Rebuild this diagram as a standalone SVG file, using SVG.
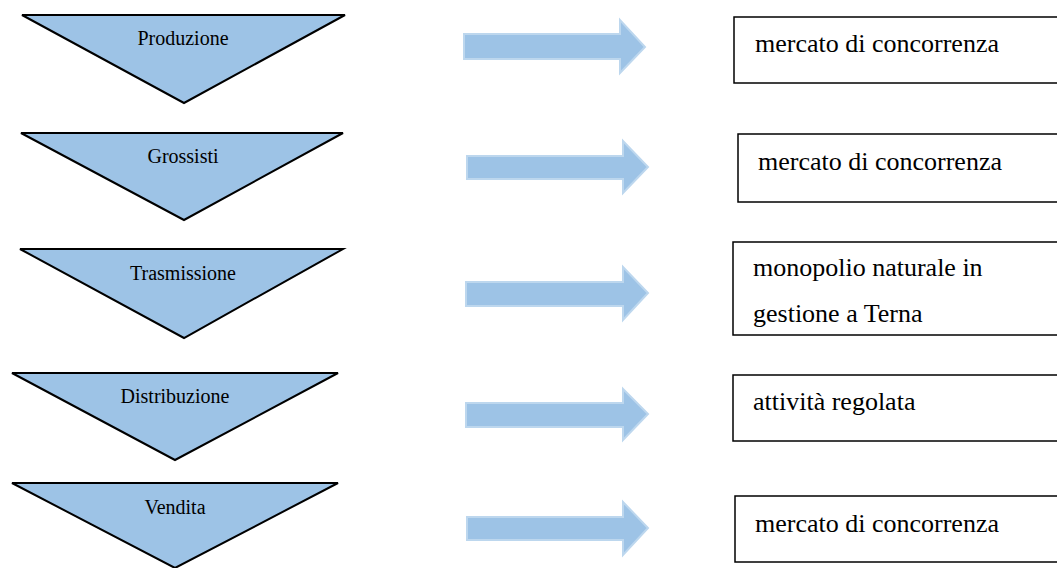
<svg xmlns="http://www.w3.org/2000/svg" width="1057" height="568" viewBox="0 0 1057 568">
<style>
.tri{fill:#9DC3E6;stroke:#000;stroke-width:2;stroke-linejoin:miter}
.arr{fill:#9DC3E6;stroke:#BDD7EE;stroke-width:2}
.box{fill:#fff;stroke:#000;stroke-width:1.5}
.tl{font-family:"Liberation Serif","Times New Roman",serif;font-size:20px;fill:#000;text-anchor:middle}
.bl{font-family:"Liberation Serif","Times New Roman",serif;font-size:26px;fill:#000}
</style>
<rect width="1057" height="568" fill="#fff"/>
<g id="produzione"><polygon class="tri" points="22,15 345,15 184,103"/><text class="tl" x="183" y="45">Produzione</text></g>
<g id="grossisti"><polygon class="tri" points="21,133 343,133 184,220"/><text class="tl" x="183" y="163">Grossisti</text></g>
<g id="trasmissione"><polygon class="tri" points="20,249 343,249 184,338"/><text class="tl" x="183" y="280">Trasmissione</text></g>
<g id="distribuzione"><polygon class="tri" points="12,373 338,373 175,460"/><text class="tl" x="175" y="403">Distribuzione</text></g>
<g id="vendita"><polygon class="tri" points="12,483 338,483 175,568"/><text class="tl" x="175" y="514">Vendita</text></g>
<g id="box1"><rect class="box" x="734" y="17" width="325" height="66"/><text class="bl" x="755" y="52">mercato di concorrenza</text></g>
<g id="box2"><rect class="box" x="738" y="134" width="321" height="68"/><text class="bl" x="758" y="170">mercato di concorrenza</text></g>
<g id="box3"><rect class="box" x="733" y="242" width="326" height="93"/><text class="bl" x="753" y="276">monopolio naturale in</text><text class="bl" x="753" y="322">gestione a Terna</text></g>
<g id="box4"><rect class="box" x="733" y="375" width="326" height="66"/><text class="bl" x="753" y="410">attività regolata</text></g>
<g id="box5"><rect class="box" x="735" y="496" width="324" height="66"/><text class="bl" x="755" y="532">mercato di concorrenza</text></g>
<g id="connectors">
<polygon class="arr" points="464,34 620,34 620,20 645,47 620,73 620,59 464,59"/>
<polygon class="arr" points="467,156 623,156 623,141 648,167 623,193 623,179 467,179"/>
<polygon class="arr" points="466,282 623,282 623,267 648,293 623,320 623,306 466,306"/>
<polygon class="arr" points="466,403 623,403 623,389 648,414 623,440 623,427 466,427"/>
<polygon class="arr" points="467,517 623,517 623,502 648,528 623,555 623,540 467,540"/>
</g>
</svg>
